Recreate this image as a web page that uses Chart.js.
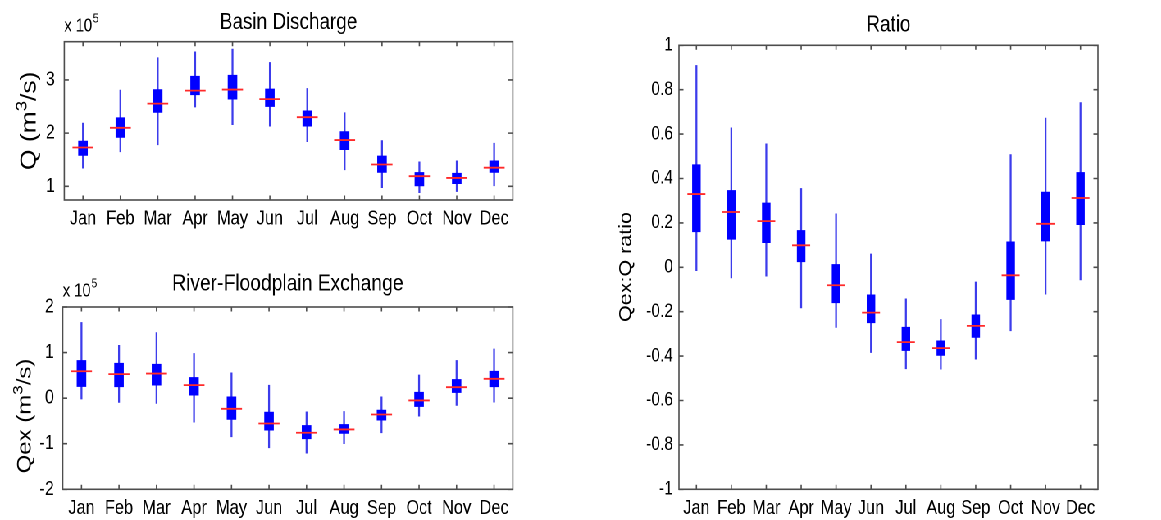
<!DOCTYPE html>
<html>
<head>
<meta charset="utf-8">
<title>Basin Discharge, River-Floodplain Exchange and Ratio</title>
<script src="https://cdn.jsdelivr.net/npm/chart.js@4.4.1/dist/chart.umd.min.js"></script>
<style>
  html, body { margin: 0; padding: 0; background: #fff; }
  body { width: 1161px; height: 520px; overflow: hidden; position: relative; }
  /* the figure is laid out on a wider stage and squeezed horizontally */
  #stage { position: absolute; left: 0; top: 0; width: 1416px; height: 520px;
           transform: scaleX(0.82); transform-origin: 0 0; }
  .panel { position: absolute; }
</style>
</head>
<body>
<div id="stage">
  <div class="panel" style="left:0;top:0;"><canvas id="discharge"></canvas></div>
  <div class="panel" style="left:0;top:260px;"><canvas id="exchange"></canvas></div>
  <div class="panel" style="left:700px;top:0;"><canvas id="ratio"></canvas></div>
</div>
<script>
// ---- data ----------------------------------------------------------------
const months = ['Jan','Feb','Mar','Apr','May','Jun','Jul','Aug','Sep','Oct','Nov','Dec'];

// Basin discharge Q (m^3/s): whisker ends, quartiles and median per month
const qLow  = [1.34e5, 1.65e5, 1.78e5, 2.49e5, 2.16e5, 2.13e5, 1.84e5, 1.31e5, 0.975e5, 0.88e5, 0.90e5, 1.01e5];
const qQ1   = [1.58e5, 1.92e5, 2.39e5, 2.72e5, 2.64e5, 2.50e5, 2.13e5, 1.69e5, 1.26e5, 1.006e5, 1.05e5, 1.26e5];
const qMed  = [1.73e5, 2.10e5, 2.555e5, 2.80e5, 2.82e5, 2.64e5, 2.30e5, 1.87e5, 1.41e5, 1.19e5, 1.157e5, 1.35e5];
const qQ3   = [1.85e5, 2.29e5, 2.82e5, 3.07e5, 3.09e5, 2.83e5, 2.42e5, 2.03e5, 1.57e5, 1.26e5, 1.245e5, 1.48e5];
const qHigh = [2.19e5, 2.81e5, 3.42e5, 3.53e5, 3.58e5, 3.33e5, 2.84e5, 2.385e5, 1.86e5, 1.46e5, 1.48e5, 1.81e5];
const qTicks = [1e5, 2e5, 3e5];

// River-floodplain exchange Qex (m^3/s)
const xLow  = [-0.02e5, -0.095e5, -0.117e5, -0.527e5, -0.848e5, -1.09e5, -1.207e5, -1.0e5, -0.76e5, -0.395e5, -0.16e5, -0.088e5];
const xQ1   = [0.256e5, 0.25e5, 0.285e5, 0.066e5, -0.468e5, -0.702e5, -0.892e5, -0.775e5, -0.483e5, -0.183e5, 0.124e5, 0.25e5];
const xMed  = [0.59e5, 0.527e5, 0.54e5, 0.285e5, -0.234e5, -0.556e5, -0.76e5, -0.687e5, -0.358e5, -0.05e5, 0.24e5, 0.424e5];
const xQ3   = [0.826e5, 0.768e5, 0.746e5, 0.453e5, 0.03e5, -0.307e5, -0.60e5, -0.578e5, -0.263e5, 0.13e5, 0.41e5, 0.59e5];
const xHigh = [1.66e5, 1.16e5, 1.44e5, 0.98e5, 0.556e5, 0.285e5, -0.30e5, -0.293e5, 0.03e5, 0.51e5, 0.826e5, 1.08e5];
const xTicks = [-2e5, -1e5, 0, 1e5, 2e5];

// Qex:Q ratio
const rLow  = [-0.015, -0.048, -0.04, -0.183, -0.271, -0.384, -0.457, -0.459, -0.414, -0.286, -0.121, -0.057];
const rQ1   = [0.16, 0.126, 0.111, 0.025, -0.16, -0.25, -0.375, -0.397, -0.316, -0.145, 0.118, 0.192];
const rMed  = [0.33, 0.249, 0.208, 0.099, -0.081, -0.204, -0.337, -0.364, -0.264, -0.036, 0.196, 0.312];
const rQ3   = [0.462, 0.346, 0.29, 0.166, 0.013, -0.124, -0.27, -0.331, -0.214, 0.115, 0.339, 0.427];
const rHigh = [0.909, 0.628, 0.556, 0.355, 0.241, 0.06, -0.142, -0.235, -0.066, 0.508, 0.672, 0.742];
const rTicks = [-1, -0.8, -0.6, -0.4, -0.2, 0, 0.2, 0.4, 0.6, 0.8, 1];

// ---- drawing helpers -------------------------------------------------------
const FAMILY = '"Liberation Sans", Arial, Helvetica, sans-serif';
const INK = '#000';
const AXIS = '#4d4d4d';

// draw a run of text pieces (some raised as superscripts), centred on (x, y)
function drawRich(ctx, parts, x, y, rotation) {
  ctx.save();
  ctx.translate(x, y);
  ctx.rotate(rotation);
  ctx.fillStyle = INK;
  ctx.textBaseline = 'alphabetic';
  ctx.textAlign = 'left';
  const widths = parts.map(p => { ctx.font = p.size + 'px ' + FAMILY; return ctx.measureText(p.t).width; });
  const total = widths.reduce((a, b) => a + b, 0);
  const base = parts[0].size * 0.36;
  let cx = -total / 2;
  parts.forEach((p, i) => {
    ctx.font = p.size + 'px ' + FAMILY;
    ctx.fillText(p.t, cx, base - (p.rise || 0));
    cx += widths[i];
  });
  ctx.restore();
}

// MATLAB-like axes box with inward ticks, title, y label and exponent
const matlabAxes = {
  id: 'matlabAxes',
  afterDraw(chart, args, o) {
    const {ctx, chartArea: a, scales} = chart;
    ctx.save();
    ctx.strokeStyle = AXIS;
    ctx.lineWidth = 1.6;
    ctx.beginPath();
    scales.y.ticks.forEach(t => {
      const y = scales.y.getPixelForValue(t.value);
      ctx.moveTo(a.left, y);  ctx.lineTo(a.left + 5.5, y);
      ctx.moveTo(a.right, y); ctx.lineTo(a.right - 5.5, y);
    });
    scales.x.ticks.forEach((t, i) => {
      const x = scales.x.getPixelForTick(i);
      ctx.moveTo(x, a.bottom); ctx.lineTo(x, a.bottom - 4.5);
      ctx.moveTo(x, a.top);    ctx.lineTo(x, a.top + 4.5);
    });
    ctx.stroke();
    ctx.strokeRect(a.left, a.top, a.right - a.left, a.bottom - a.top);
    ctx.restore();

    drawRich(ctx, [{t: o.title, size: o.titleSize}], (a.left + a.right) / 2, o.titleY, 0);
    drawRich(ctx, o.yLabel, o.yLabelX, o.yLabelY != null ? o.yLabelY : (a.top + a.bottom) / 2, -Math.PI / 2);

    if (o.exponent) {
      ctx.save();
      ctx.fillStyle = INK;
      ctx.textBaseline = 'alphabetic';
      ctx.font = '18px ' + FAMILY;
      ctx.fillText('x 10', a.left, o.exponentY);
      const w = ctx.measureText('x 10').width;
      ctx.font = '12.5px ' + FAMILY;
      ctx.fillText(o.exponent, a.left + w + 1, o.exponentY - 9);
      ctx.restore();
    }
  }
};

function boxPanel(id, spec) {
  const canvas = document.getElementById(id);
  canvas.width = spec.width;
  canvas.height = spec.height;
  return new Chart(canvas, {
    type: 'bar',
    data: {
      labels: months,
      datasets: [
        { label: 'whisker', data: months.map((m, i) => [spec.low[i], spec.high[i]]),
          backgroundColor: 'rgb(60,60,235)', barThickness: 1.6, grouped: false, order: 3 },
        { label: 'box', data: months.map((m, i) => [spec.q1[i], spec.q3[i]]),
          backgroundColor: '#0000ff', barThickness: spec.boxWidth, grouped: false, order: 2 },
        { type: 'line', label: 'median', data: spec.med, showLine: false,
          pointStyle: 'line', pointRadius: spec.medianHalf, pointHoverRadius: spec.medianHalf,
          pointBorderColor: '#ff2a2a', pointBorderWidth: 1.8, order: 1 }
      ]
    },
    options: {
      responsive: false,
      devicePixelRatio: 2,
      animation: false,
      events: [],
      layout: { padding: { top: spec.padTop, right: spec.padRight, bottom: 0, left: 0 } },
      plugins: {
        legend: { display: false },
        tooltip: { enabled: false },
        matlabAxes: spec.axes
      },
      scales: {
        x: {
          grid: { display: false, drawTicks: false }, border: { display: false },
          ticks: { color: INK, font: { family: FAMILY, size: 20 }, padding: 7,
                   maxRotation: 0, autoSkip: false },
          afterFit: s => { s.height = spec.xHeight; }
        },
        y: {
          min: spec.min, max: spec.max,
          grid: { display: false, drawTicks: false }, border: { display: false },
          ticks: { color: INK, font: { family: FAMILY, size: spec.tickSize }, padding: spec.tickPad,
                   callback: spec.fmt },
          afterBuildTicks: s => { s.ticks = spec.ticks.map(v => ({ value: v })); },
          afterFit: s => { s.width = spec.yWidth; }
        }
      }
    },
    plugins: [matlabAxes]
  });
}

const perE5 = v => String(Math.round(v / 1e5));
const oneDecimal = v => String(+Number(v).toFixed(1));

boxPanel('discharge', {
  width: 640, height: 245, padTop: 41.7, padRight: 9.5, yWidth: 78.4, xHeight: 45,
  low: qLow, q1: qQ1, med: qMed, q3: qQ3, high: qHigh,
  min: 0.742e5, max: 3.72e5, ticks: qTicks, fmt: perE5, tickSize: 20, tickPad: 11.4,
  boxWidth: 11, medianHalf: 12.8,
  axes: { title: 'Basin Discharge', titleSize: 23, titleY: 20.5,
          yLabel: [{t: 'Q (m', size: 26.5}, {t: '3', size: 18.5, rise: 11}, {t: '/s)', size: 26.5}],
          yLabelX: 34, exponent: '5', exponentY: 31.7 }
});

boxPanel('exchange', {
  width: 640, height: 260, padTop: 47, padRight: 9.5, yWidth: 76.5, xHeight: 30.7,
  low: xLow, q1: xQ1, med: xMed, q3: xQ3, high: xHigh,
  min: -2e5, max: 2e5, ticks: xTicks, fmt: perE5, tickSize: 20, tickPad: 10.6,
  boxWidth: 11, medianHalf: 12.8,
  axes: { title: 'River-Floodplain Exchange', titleSize: 23.5, titleY: 22,
          yLabel: [{t: 'Qex (m', size: 24}, {t: '3', size: 17, rise: 10}, {t: '/s)', size: 24}],
          yLabelX: 29, yLabelY: 156, exponent: '5', exponentY: 36.7 }
});

boxPanel('ratio', {
  width: 716, height: 520, padTop: 45.3, padRight: 77, yWidth: 128, xHeight: 30.7,
  low: rLow, q1: rQ1, med: rMed, q3: rQ3, high: rHigh,
  min: -1, max: 1, ticks: rTicks, fmt: oneDecimal, tickSize: 19, tickPad: 7.3,
  boxWidth: 9.75, medianHalf: 11,
  axes: { title: 'Ratio', titleSize: 23, titleY: 23.3,
          yLabel: [{t: 'Qex:Q ratio', size: 21.5}],
          yLabelX: 62, yLabelY: 267 }
});
</script>
</body>
</html>
